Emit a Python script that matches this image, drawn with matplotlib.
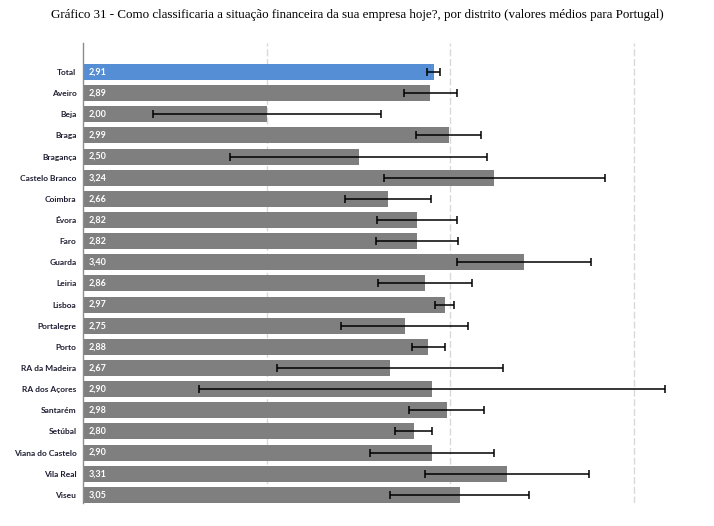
"""
Gráfico 31 - situação financeira da empresa, por distrito
barras horizontais com intervalos de erro
"""

import matplotlib.pyplot as plt
import matplotlib

matplotlib.rcParams['font.family'] = ['Lato', 'DejaVu Sans']

# dados
distritos = ['Total', 'Aveiro', 'Beja', 'Braga', 'Bragança', 'Castelo Branco',
             'Coimbra', 'Évora', 'Faro', 'Guarda', 'Leiria', 'Lisboa',
             'Portalegre', 'Porto', 'RA da Madeira', 'RA dos Açores',
             'Santarém', 'Setúbal', 'Viana do Castelo', 'Vila Real', 'Viseu']
medias = [2.91, 2.89, 2.00, 2.99, 2.50, 3.24, 2.66, 2.82, 2.82, 3.40, 2.86,
          2.97, 2.75, 2.88, 2.67, 2.90, 2.98, 2.80, 2.90, 3.31, 3.05]
erros = [0.036, 0.144, 0.62, 0.175, 0.70, 0.60, 0.235, 0.218, 0.224, 0.366,
         0.256, 0.052, 0.344, 0.09, 0.616, 1.27, 0.205, 0.10, 0.34, 0.447, 0.38]

# cores: Total em azul, distritos em cinzento
cores = ['#558ed5'] + ['#7f7f7f'] * (len(distritos) - 1)

fig = plt.figure(figsize=(7.14, 5.26), dpi=100)
ax = fig.add_axes([0.1167, 0.0437, 0.874, 0.8745])

pos = list(range(len(distritos)))
ax.barh(pos, medias, left=0, height=0.757, color=cores, zorder=2)
ax.errorbar(medias, pos, xerr=erros, fmt='none', ecolor='black',
            elinewidth=1.1, capsize=3.2, capthick=1.1, zorder=3)

# valores dentro das barras
for y, v in zip(pos, medias):
    ax.text(1.03, y, f'{v:.2f}'.replace('.', ','), ha='left', va='center',
            color='white', fontsize=6.5, fontweight='bold', zorder=4)

ax.set_xlim(1, 4.4)
ax.set_ylim(20.385, -1.37)

ax.set_yticks(pos)
ax.set_yticklabels(distritos, fontsize=6.0, fontweight='bold', color='#1f1f33')
ax.tick_params(axis='y', length=0, pad=5)
ax.set_xticks([])

# grelha vertical tracejada
for gx in [2, 3, 4]:
    ax.axvline(gx, color='#d9d9d9', linestyle=(0, (5, 2)), linewidth=1.0, zorder=1)

for s in ['top', 'right', 'bottom']:
    ax.spines[s].set_visible(False)
ax.spines['left'].set_color('#8c8c8c')
ax.spines['left'].set_linewidth(1.0)

fig.text(0.5, 0.972, 'Gráfico 31 - Como classificaria a situação financeira da sua empresa hoje?, '
         'por distrito (valores médios para Portugal)',
         ha='center', va='center', fontsize=9.4,
         family=['Liberation Serif', 'DejaVu Serif'])

plt.savefig('out.png', dpi=100, facecolor='white')
plt.close()
